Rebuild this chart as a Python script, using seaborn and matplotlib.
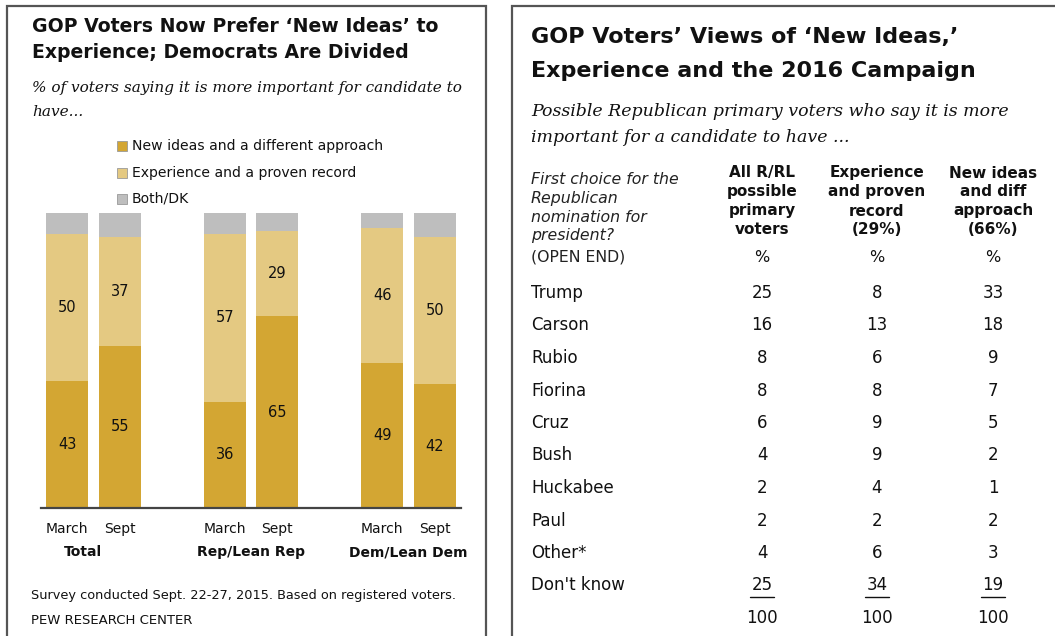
import numpy as np
import pandas as pd
import matplotlib
matplotlib.use("Agg")
import matplotlib.pyplot as plt
from matplotlib.patches import Rectangle
from matplotlib.lines import Line2D
import seaborn as sns

# --- left panel: stacked bars ---
bars = ["Total March", "Total Sept", "Rep March", "Rep Sept", "Dem March", "Dem Sept"]
periods = ["March", "Sept", "March", "Sept", "March", "Sept"]
new_ideas = [43, 55, 36, 65, 49, 42]
experience = [50, 37, 57, 29, 46, 50]
both_dk = [7, 8, 7, 6, 5, 8]
groups = ["Total", "Rep/Lean Rep", "Dem/Lean Dem"]
legend_labels = ["New ideas and a different approach",
                 "Experience and a proven record", "Both/DK"]

# --- right panel: table ---
candidates = ["Trump", "Carson", "Rubio", "Fiorina", "Cruz", "Bush",
              "Huckabee", "Paul", "Other*", "Don't know"]
all_rl = [25, 16, 8, 8, 6, 4, 2, 2, 4, 25]
exp_record = [8, 13, 6, 8, 9, 9, 4, 2, 6, 34]
new_approach = [33, 18, 9, 7, 5, 2, 1, 2, 3, 19]
col_totals = [100, 100, 100]
col_headers = [["All R/RL", "possible", "primary", "voters"],
               ["Experience", "and proven", "record", "(29%)"],
               ["New ideas", "and diff", "approach", "(66%)"]]

DARK = "#D3A633"
LIGHT = "#E4C982"
GRAY = "#BEBEBE"
TXT = "#111111"

W, H = 1055, 636
sns.set_theme(style="white")
plt.rcParams['font.family'] = ['DejaVu Sans']
fig = plt.figure(figsize=(W / 100, H / 100), dpi=100)


def fx(x):
    return x / W


def fy(y):
    return 1 - y / H


def T(x, y, s, **kw):
    kw.setdefault("va", "center")
    kw.setdefault("color", TXT)
    fig.text(fx(x), fy(y), s, **kw)


# panel frames
for x0, x1 in [(7, 486), (512, 1062)]:
    fig.patches.append(Rectangle((fx(x0), fy(645)), fx(x1) - fx(x0), fy(6) - fy(645),
                                 transform=fig.transFigure, fill=False,
                                 edgecolor="#555555", linewidth=1.6))

# ---------- left panel ----------
T(32, 26, "GOP Voters Now Prefer \u2018New Ideas\u2019 to", fontsize=13.6, fontweight="bold")
T(32, 53, "Experience; Democrats Are Divided", fontsize=13.6, fontweight="bold")
T(32, 88, "% of voters saying it is more important for candidate to",
  fontsize=11, style="italic", family="DejaVu Serif")
T(32, 112, "have...", fontsize=11, style="italic", family="DejaVu Serif")

for i, (lab, col) in enumerate(zip(legend_labels, [DARK, LIGHT, GRAY])):
    yy = 146 + i * 26.5
    fig.patches.append(Rectangle((fx(117), fy(yy + 5)), fx(10), 10 / H,
                                 transform=fig.transFigure, facecolor=col,
                                 edgecolor="#999999", linewidth=0.6))
    T(132, yy, lab, fontsize=10.1)

order = ["Total March", "Total Sept", "_g1", "Rep March", "Rep Sept", "_g2",
         "Dem March", "Dem Sept"]
df = pd.DataFrame({"bar": bars, "new": new_ideas, "exp": experience, "both": both_dk})
df["top1"] = df["new"] + df["exp"]
df["top2"] = df["top1"] + df["both"]

ax = fig.add_axes([fx(41), fy(508), 420 / W, 295 / H])
for col, c in [("top2", GRAY), ("top1", LIGHT), ("new", DARK)]:
    sns.barplot(data=df, x="bar", y=col, order=order, color=c, saturation=1,
                width=0.8, errorbar=None, linewidth=0, ax=ax)
ax.set_xlim(-0.5, 7.5)
ax.set_ylim(0, 100)
ax.set_xlabel("")
ax.set_ylabel("")
ax.set_yticks([])
ax.set_xticks([])
for s in ["top", "left", "right"]:
    ax.spines[s].set_visible(False)
ax.spines["bottom"].set_color("#444444")
ax.spines["bottom"].set_linewidth(1.6)
ax.patch.set_alpha(0)

for _, r in df.iterrows():
    p = order.index(r["bar"])
    ax.text(p, r["new"] / 2, str(r["new"]), ha="center", va="center", fontsize=10.5, color=TXT)
    ax.text(p, r["new"] + r["exp"] / 2, str(r["exp"]), ha="center", va="center",
            fontsize=10.5, color=TXT)
    ax.text(p, -7, periods[bars.index(r["bar"])], ha="center", va="center",
            fontsize=10, color=TXT, clip_on=False)

for g, p in zip(groups, [0.3, 3.5, 6.5]):
    ax.text(p, -15, g, ha="center", va="center", fontsize=10, fontweight="bold",
            color=TXT, clip_on=False)

T(31, 596, "Survey conducted Sept. 22-27, 2015. Based on registered voters.", fontsize=9.3)
T(31, 621, "PEW RESEARCH CENTER", fontsize=9.5)

# ---------- right panel ----------
T(531, 37, "GOP Voters\u2019 Views of \u2018New Ideas,\u2019", fontsize=16, fontweight="bold")
T(531, 71, "Experience and the 2016 Campaign", fontsize=16, fontweight="bold")
T(531, 112, "Possible Republican primary voters who say it is more",
  fontsize=12.5, style="italic", family="DejaVu Serif")
T(531, 137, "important for a candidate to have ...",
  fontsize=12.5, style="italic", family="DejaVu Serif")

stub = ["First choice for the", "Republican", "nomination for", "president?"]
for i, s in enumerate(stub):
    T(531, 179 + i * 19, s, fontsize=11.3, style="italic", color="#222222")
T(531, 257, "(OPEN END)", fontsize=11.3, color="#222222")

col_x = [762, 877, 993]
for cx, hdr in zip(col_x, col_headers):
    for i, s in enumerate(hdr):
        T(cx, 173 + i * 19, s, fontsize=11, fontweight="bold", ha="center")
    T(cx, 257, "%", fontsize=11.5, ha="center")

row_y0, row_dy = 293, 32.5
for i, name in enumerate(candidates):
    yy = row_y0 + i * row_dy
    T(531, yy, name, fontsize=12)
    for cx, vals in zip(col_x, [all_rl, exp_record, new_approach]):
        T(cx, yy, str(vals[i]), fontsize=12, ha="center")
        if i == len(candidates) - 1:
            fig.add_artist(Line2D([fx(cx - 12), fx(cx + 12)], [fy(yy + 11), fy(yy + 11)],
                                  transform=fig.transFigure, color=TXT, linewidth=1))
for cx, t in zip(col_x, col_totals):
    T(cx, row_y0 + len(candidates) * row_dy, str(t), fontsize=12, ha="center")

fig.savefig("out.png", dpi=100, facecolor="white")
